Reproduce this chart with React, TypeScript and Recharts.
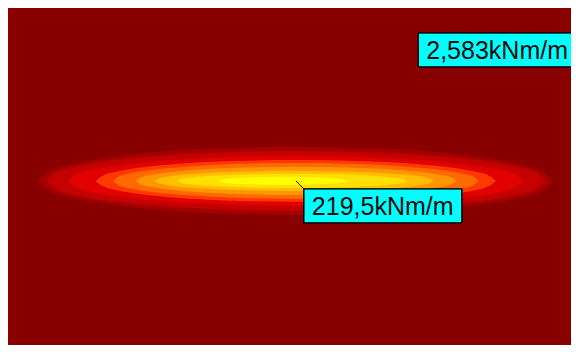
import { Area, CartesianGrid, ComposedChart, ReferenceDot, XAxis, YAxis } from "recharts";

// contour field centre (x in %, y in %)
const centreY = -1.3;

// one colour per contour band, outer -> inner
const bandColors = [
  "#a40000",
  "#c40000",
  "#e20000",
  "#ff3800",
  "#ff6a00",
  "#ff9600",
  "#ffbe00",
  "#ffe000",
  "#ffff00",
];

// centre of each band along x
const bandCentreX = [50.5, 50.5, 50.5, 50.5, 50.5, 50.5, 50.2, 49.8, 48.2];

// half-length offsets along x for each band
const bandOffsets = [
  [0, 15.8, 27.1, 35.2, 40.6, 43.3, 45.1],
  [0, 15.3, 26.2, 34.1, 39.3, 42.0, 43.7],
  [0, 14.0, 23.9, 31.1, 35.9, 38.3, 39.9],
  [0, 12.3, 21.0, 27.3, 31.5, 33.6, 35.0],
  [0, 11.2, 19.2, 25.0, 28.8, 30.7, 32.0],
  [0, 9.8, 16.8, 21.8, 25.2, 26.9, 28.0],
  [0, 8.6, 14.7, 19.1, 22.1, 23.5, 24.5],
  [0, 7.0, 12.1, 15.7, 18.1, 19.3, 20.1],
  [0, 3.9, 6.7, 8.7, 10.1, 10.8, 11.2],
];

// half-heights of each band at those offsets
const bandHalfHeights = [
  [10.1, 9.5, 8.1, 6.3, 4.4, 2.8, 0],
  [8.9, 8.3, 7.1, 5.6, 3.9, 2.5, 0],
  [7.4, 6.9, 5.9, 4.6, 3.2, 2.1, 0],
  [6.2, 5.8, 5.0, 3.9, 2.7, 1.7, 0],
  [5.3, 5.0, 4.2, 3.3, 2.3, 1.5, 0],
  [4.2, 3.9, 3.4, 2.6, 1.8, 1.2, 0],
  [3.0, 2.8, 2.4, 1.9, 1.3, 0.8, 0],
  [2.1, 2.0, 1.7, 1.3, 0.9, 0.6, 0],
  [1.2, 1.1, 0.96, 0.75, 0.52, 0.34, 0],
];

const annotationText = ["2,583kNm/m", "219,5kNm/m"];
const annotationX = [71.9, 50.5];
const annotationY = [42.6, -1.3];
const annotationLeader = [false, true];

function bandData(band: number) {
  const cx = bandCentreX[band];
  const offsets = bandOffsets[band];
  const heights = bandHalfHeights[band];
  const pts: { x: number; range: [number, number] }[] = [];
  for (let i = offsets.length - 1; i > 0; i--) {
    pts.push({ x: cx - offsets[i], range: [centreY - heights[i], centreY + heights[i]] });
  }
  for (let i = 0; i < offsets.length; i++) {
    pts.push({ x: cx + offsets[i], range: [centreY - heights[i], centreY + heights[i]] });
  }
  return pts;
}

function Callout(props: any) {
  const { cx, cy, text, leader } = props;
  const bx = leader ? cx + 8 : cx;
  const by = leader ? cy + 8 : cy;
  return (
    <g>
      {leader && <line x1={cx} y1={cy} x2={bx} y2={by} stroke="#111" strokeWidth={1} />}
      <rect x={bx} y={by} width={158} height={34} fill="#00ffff" stroke="#000" strokeWidth={1.4} />
      <text
        x={bx + 8}
        y={by + 26}
        fontFamily="'Liberation Sans', Arial, sans-serif"
        fontSize={25}
        fill="#0a0a0a"
      >
        {text}
      </text>
    </g>
  );
}

export default function App() {
  return (
    <div style={{ marginLeft: -1, width: 572, height: 337 }}>
      <ComposedChart width={572} height={337} margin={{ top: 0, right: 0, bottom: 0, left: 0 }}>
        <CartesianGrid fill="#880000" stroke="none" horizontal={false} vertical={false} />
        <XAxis type="number" dataKey="x" domain={[0, 100]} allowDataOverflow hide />
        <YAxis type="number" domain={[-50, 50]} allowDataOverflow hide />
        {bandColors.map((color, i) => (
          <Area
            key={color}
            data={bandData(i)}
            dataKey="range"
            type="monotone"
            stroke="none"
            fill={color}
            fillOpacity={1}
            isAnimationActive={false}
            activeDot={false}
            dot={false}
          />
        ))}
        {annotationText.map((text, i) => (
          <ReferenceDot
            key={text}
            x={annotationX[i]}
            y={annotationY[i]}
            ifOverflow="visible"
            shape={(p: any) => <Callout {...p} text={text} leader={annotationLeader[i]} />}
          />
        ))}
      </ComposedChart>
    </div>
  );
}
